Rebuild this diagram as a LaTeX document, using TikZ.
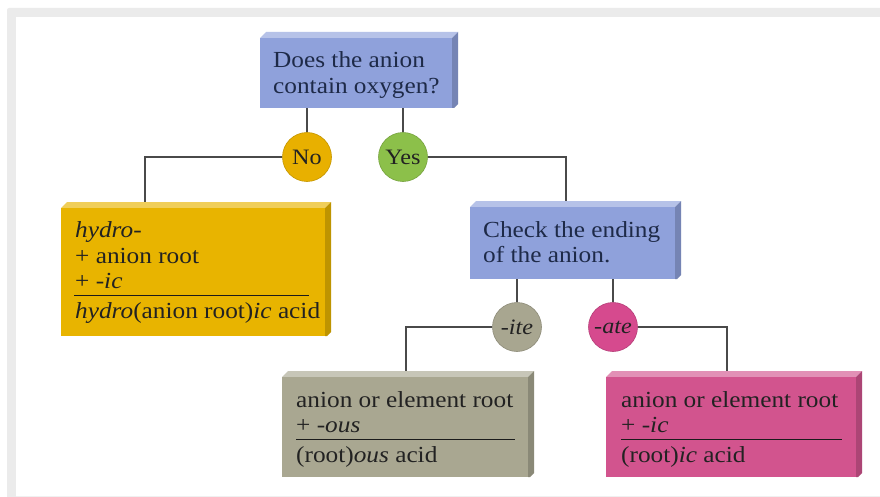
\documentclass[tikz,border=0pt]{standalone}
\usepackage{fontspec}
\setmainfont{Liberation Serif}[FakeStretch=1.1]
\usetikzlibrary{calc}
\definecolor{bluebox}{HTML}{8FA1DB}
\definecolor{yelbox}{HTML}{E8B400}
\definecolor{greybox}{HTML}{A9A791}
\definecolor{pinkbox}{HTML}{D2548E}
\definecolor{nocol}{HTML}{E8B000}
\definecolor{yescol}{HTML}{8CC04A}
\definecolor{itecol}{HTML}{A8A690}
\definecolor{atecol}{HTML}{D64A8E}
\definecolor{txt}{HTML}{222222}
\definecolor{qtxt}{HTML}{1E2A48}
\definecolor{linec}{HTML}{4A4A4A}
\definecolor{framec}{HTML}{EBEBEB}
\pgfdeclarelayer{framelayer}
\pgfdeclarelayer{connlayer}
\pgfsetlayers{framelayer,connlayer,main}
\newcommand\boxthreed[6]{%
  \fill[#6!65!white] (#2,#3) -- (#2+6,#3-6) -- (#4+6,#3-6) -- (#4,#3) -- cycle;
  \fill[#6!82!black] (#4,#3) -- (#4+6,#3-6) -- (#4+6,#5-4) -- (#4+2,#5) -- (#4,#5) -- cycle;
  \node[fill=#6, anchor=north west, inner sep=0pt, outer sep=0pt,
        minimum width={(#4-#2)*1pt}, minimum height={(#5-#3)*1pt}] (#1) at (#2,#3) {};
}
\tikzset{
  conn/.style={draw=linec, line width=1.2pt},
  ln/.style={anchor=base west, inner sep=0pt, text=txt, font=\fontsize{23}{26}\selectfont},
  circ/.style={circle, minimum size=49pt, inner sep=0pt, text=txt,
               font=\fontsize{22}{24}\selectfont},
  rulel/.style={draw=txt!80!black, line width=1pt}
}
\begin{document}
\begin{tikzpicture}[x=1pt,y=-1pt]
\useasboundingbox (0,0) rectangle (880,497);
\begin{pgfonlayer}{framelayer}
  \fill[framec, rounded corners=2pt] (7,8) rectangle (884,500);
  \fill[white] (16,17) rectangle (880,497);
  \draw[black!6, line width=0.8pt] (16,496) -- (880,496);
\end{pgfonlayer}

% boxes
\boxthreed{q}{260}{38}{452}{108}{bluebox}
\boxthreed{hy}{61}{208}{325}{336}{yelbox}
\boxthreed{chk}{470}{207}{675}{279}{bluebox}
\boxthreed{grey}{282}{377}{528}{477}{greybox}
\boxthreed{pink}{606}{377}{856}{477}{pinkbox}

% circles
\node[circ, fill=nocol, draw=nocol!85!black, line width=0.6pt] (No) at (307,157) {No};
\node[circ, fill=yescol, draw=yescol!85!black, line width=0.6pt] (Yes) at (403,157) {Yes};
\node[circ, fill=itecol, draw=itecol!85!black, line width=0.6pt] (ite) at (517,327) {\itshape -ite};
\node[circ, fill=atecol, draw=atecol!85!black, line width=0.6pt] (ate) at (613,327) {\itshape -ate};

% texts
\node[ln, text=qtxt] (q1) at (273,68) {Does the anion};
\node[ln, text=qtxt] (q2) at (273,94) {contain oxygen?};

\node[ln] (h1) at (75,237) {\itshape hydro-};
\node[ln] (h2) at (75,263) {+ anion root};
\node[ln] (h3) at (75,288) {+ \textit{-ic}};
\node[ln] (h4) at (75,318) {\textit{hydro}(anion root)\textit{ic} acid};
\draw[rulel] (74,295) -- (309,295);

\node[ln, text=qtxt] (c1) at (483,237) {Check the ending};
\node[ln, text=qtxt] (c2) at (483,262) {of the anion.};

\node[ln] (g1) at (296,407) {anion or element root};
\node[ln] (g2) at (296,432) {+ \textit{-ous}};
\node[ln] (g3) at (296,462) {(root)\textit{ous} acid};
\draw[rulel] (296,439) -- (515,439);

\node[ln] (p1) at (621,407) {anion or element root};
\node[ln] (p2) at (621,432) {+ \textit{-ic}};
\node[ln] (p3) at (621,462) {(root)\textit{ic} acid};
\draw[rulel] (621,439) -- (842,439);

% connectors
\begin{pgfonlayer}{connlayer}
  \draw[conn] (q.south -| No) -- (No.north);
  \draw[conn] (q.south -| Yes) -- (Yes.north);
  \draw[conn] (No.west) -| ([xshift=84pt]hy.north west);
  \draw[conn] (Yes.east) -| ([xshift=96pt]chk.north west);
  \draw[conn] (chk.south -| ite) -- (ite.north);
  \draw[conn] (chk.south -| ate) -- (ate.north);
  \draw[conn] (ite.west) -| ([xshift=124pt]grey.north west);
  \draw[conn] (ate.east) -| ([xshift=121pt]pink.north west);
\end{pgfonlayer}
\end{tikzpicture}
\end{document}
